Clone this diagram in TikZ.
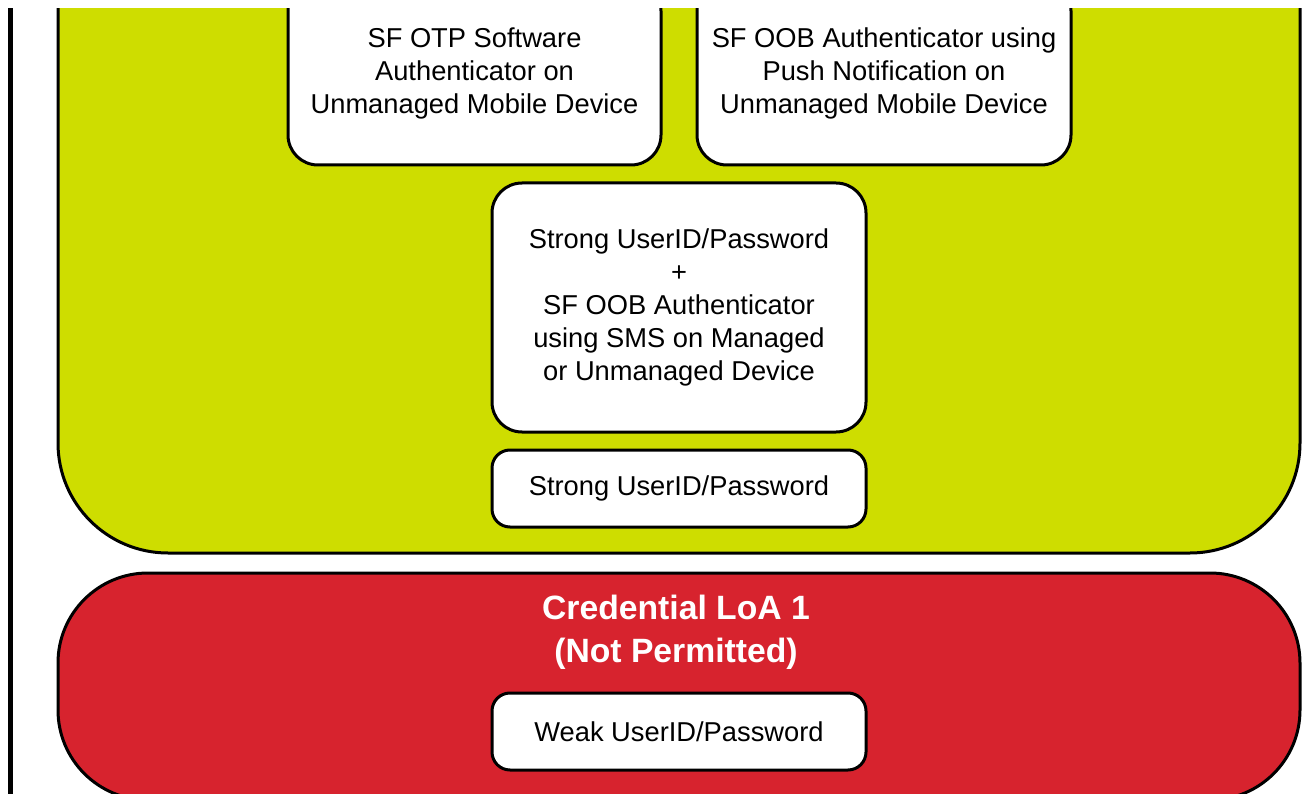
\documentclass[tikz,border=0pt]{standalone}
\usepackage{fontspec}
\setmainfont{Liberation Sans}
\definecolor{loagreen}{RGB}{206,221,0}
\definecolor{loared}{RGB}{215,35,46}
\begin{document}
\begin{tikzpicture}[x=1pt,y=-1pt,
  zone/.style={draw=black, line width=3pt},
  card/.style={draw=black, fill=white, line width=3pt, rounded corners=30pt,
    align=center, inner sep=0pt, font=\fontsize{27.3}{33}\selectfont},
  smallcard/.style={card, rounded corners=18pt, minimum width=374pt, minimum height=77pt},
  title/.style={text=white, align=center, font=\bfseries\fontsize{33.7}{43}\selectfont}
]
\useasboundingbox (0,0) rectangle (1309,794);
\begin{scope}
  \clip (0,9) rectangle (1309,794);
  % left rule
  \coordinate (ruletop) at (10,0);
  \coordinate (rulebot) at (10,794);
  \draw[line width=5pt] (ruletop) -- (rulebot);
  % LoA zones
  \draw[zone, fill=loagreen, rounded corners=110pt] (58,-200) rectangle (1300,553);
  \draw[zone, fill=loared, rounded corners=90pt] (58,573) rectangle (1300,800);
  % authenticator cards
  \node[card, minimum width=373pt, minimum height=184pt] (otp) at (474.5,73)
    {SF OTP Software\\Authenticator on\\Unmanaged Mobile Device};
  \node[card, minimum width=374pt, minimum height=184pt] (push) at (884,73)
    {SF OOB Authenticator using\\Push Notification on\\Unmanaged Mobile Device};
  \node[card, minimum width=374pt, minimum height=249pt] (sms) at (679,307.5)
    {Strong UserID/Password\\+\\SF OOB Authenticator\\using SMS on Managed\\or Unmanaged Device};
  \node[smallcard] (strong) at (679,488.5) {Strong UserID/Password};
  \node[title] (loa1) at (676,632.5) {Credential LoA 1\\(Not Permitted)};
  \node[smallcard] (weak) at (679,731.5) {Weak UserID/Password};
\end{scope}
\end{tikzpicture}
\end{document}
